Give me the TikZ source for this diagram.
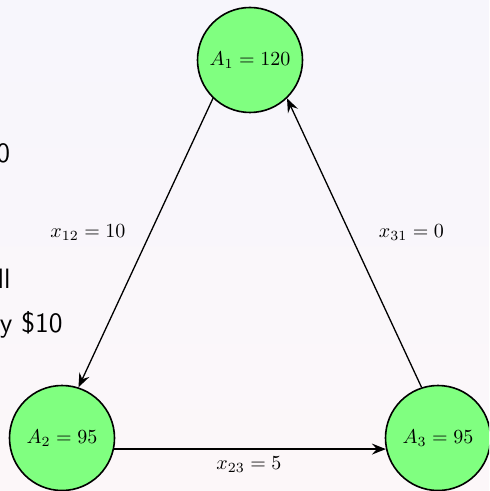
\documentclass[tikz,border=0pt]{standalone}
\usetikzlibrary{arrows.meta}
\definecolor{bgtop}{RGB}{247,246,252}
\definecolor{bgbot}{RGB}{252,247,249}
\definecolor{nodegreen}{RGB}{128,255,128}
\tikzset{
  account/.style={circle, draw=black, line width=0.8pt, fill=nodegreen, minimum size=52.5pt, inner sep=0pt, font=\normalsize},
  flow/.style={line width=0.65pt, -{Stealth[length=7pt,width=5.5pt,inset=2.5pt]}},
  flowlabel/.style={inner sep=0pt, font=\normalsize},
  slidetext/.style={inner sep=0pt, font=\fontsize{14}{17}\selectfont\sffamily, anchor=base east}
}
\begin{document}
\begin{tikzpicture}[x=0.5pt, y=-0.5pt]
  \useasboundingbox (0,0) rectangle (489,491);
  \shade[top color=bgtop, bottom color=bgbot] (0,0) rectangle (489,491);
  \clip (0,0) rectangle (489,491);
  % partly hidden slide text at the left edge
  \node[slidetext] (t1) at (10.5,163) {0};
  \node[slidetext] (t2) at (11,288) {ll};
  \node[slidetext] (t3) at (63,332) {y \$10};
  % accounts
  \node[account] (A1) at (250,60) {$A_1 = 120$};
  \node[account] (A2) at (62,438) {$A_2 = 95$};
  \node[account] (A3) at (438,438) {$A_3 = 95$};
  % flows
  \draw[flow] (A1.226) -- (A2.72);
  \draw[flow] (A3.108) -- (A1.314);
  \draw[flow] (A2.-12) -- (A3.192);
  % labels
  \node[flowlabel] (l12) at (88,233) {$x_{12} = 10$};
  \node[flowlabel] (l31) at (411.5,233) {$x_{31} = 0$};
  \node[flowlabel] (l23) at (249,465) {$x_{23} = 5$};
\end{tikzpicture}
\end{document}
